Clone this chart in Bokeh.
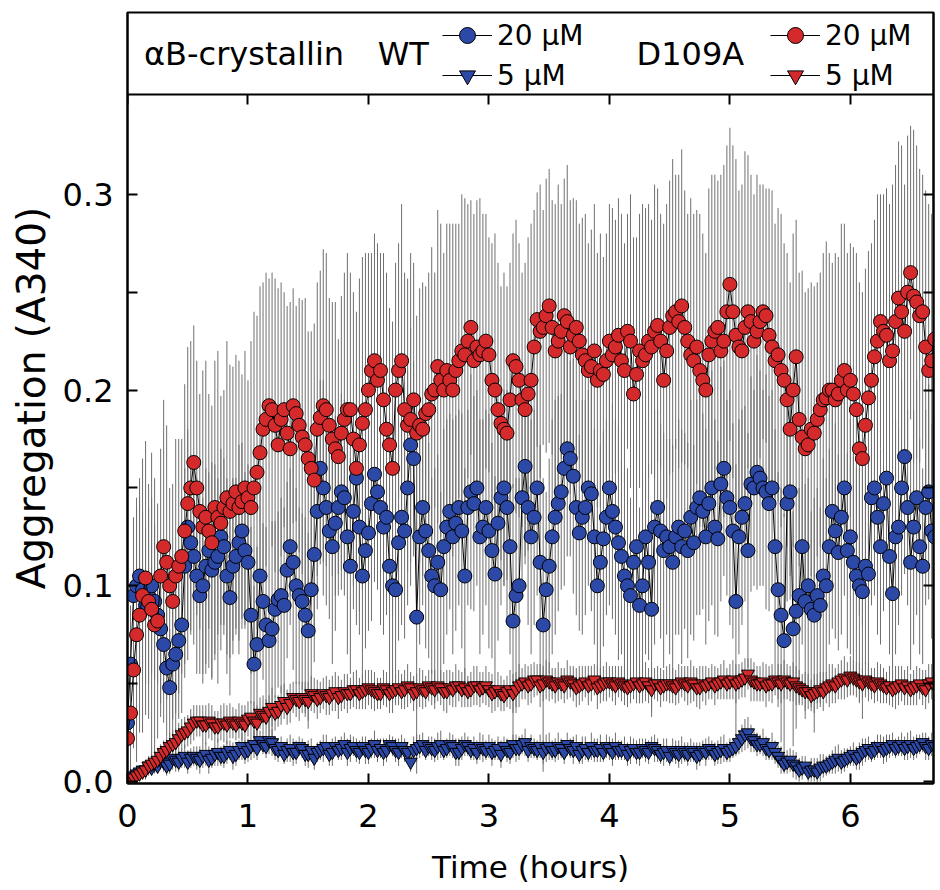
import numpy as np
from bokeh.plotting import figure
from bokeh.models import (Range1d, LinearAxis, FixedTicker, PrintfTickFormatter,
                          CustomJSTickFormatter, Legend, LegendItem, Label)
from bokeh.embed import file_html
from bokeh.resources import INLINE

# ---------------- data ----------------
# readings on the full 3-minute grid (t = 0, 0.05, ... 6.70 h)
hours_a = np.round(np.arange(135) * 0.05, 3)
# readings half-way between them (t = 0.025, 0.075, ... 6.675 h)
hours_b = np.round(0.025 + np.arange(134) * 0.05, 3)

# D109A 20 uM (red circles)
mut20_a = [0.022, 0.057, 0.085, 0.104, 0.088, 0.082, 0.120, 0.100, 0.105, 0.115,
           0.142, 0.163, 0.138, 0.135, 0.122, 0.135, 0.140, 0.138, 0.148, 0.143,
           0.145, 0.150, 0.168, 0.185, 0.190, 0.172, 0.190, 0.170, 0.188, 0.176,
           0.165, 0.154, 0.186, 0.190, 0.175, 0.166, 0.185, 0.190, 0.160, 0.183,
           0.200, 0.215, 0.210, 0.180, 0.160, 0.210, 0.190, 0.185, 0.178, 0.180,
           0.190, 0.200, 0.205, 0.210, 0.200, 0.215, 0.218, 0.232, 0.222, 0.220,
           0.218, 0.200, 0.183, 0.178, 0.215, 0.205, 0.190, 0.205, 0.236, 0.232,
           0.243, 0.220, 0.230, 0.235, 0.228, 0.225, 0.215, 0.212, 0.205, 0.208,
           0.225, 0.222, 0.215, 0.230, 0.198, 0.220, 0.218, 0.222, 0.233, 0.205,
           0.232, 0.240, 0.243, 0.225, 0.215, 0.210, 0.200, 0.225, 0.232, 0.225,
           0.254, 0.228, 0.220, 0.240, 0.225, 0.235, 0.238, 0.222, 0.218, 0.205,
           0.180, 0.217, 0.176, 0.172, 0.178, 0.190, 0.196, 0.200, 0.198, 0.210,
           0.205, 0.190, 0.165, 0.196, 0.217, 0.235, 0.228, 0.220, 0.247, 0.230,
           0.260, 0.245, 0.240, 0.210, 0.226]
mut20_b = [0.035, 0.075, 0.095, 0.092, 0.080, 0.105, 0.112, 0.092, 0.110, 0.128,
           0.150, 0.150, 0.130, 0.128, 0.140, 0.132, 0.145, 0.142, 0.140, 0.150,
           0.140, 0.158, 0.180, 0.192, 0.182, 0.185, 0.178, 0.192, 0.182, 0.172,
           0.160, 0.180, 0.192, 0.182, 0.170, 0.178, 0.190, 0.175, 0.172, 0.190,
           0.210, 0.205, 0.195, 0.172, 0.200, 0.215, 0.182, 0.195, 0.182, 0.188,
           0.198, 0.212, 0.200, 0.205, 0.210, 0.220, 0.225, 0.215, 0.218, 0.225,
           0.205, 0.190, 0.180, 0.195, 0.212, 0.195, 0.198, 0.222, 0.230, 0.238,
           0.232, 0.225, 0.238, 0.222, 0.232, 0.218, 0.210, 0.220, 0.210, 0.215,
           0.218, 0.228, 0.210, 0.225, 0.208, 0.215, 0.225, 0.230, 0.225, 0.220,
           0.238, 0.235, 0.232, 0.218, 0.222, 0.205, 0.218, 0.230, 0.220, 0.240,
           0.240, 0.222, 0.232, 0.235, 0.230, 0.240, 0.228, 0.215, 0.210, 0.195,
           0.200, 0.185, 0.170, 0.180, 0.185, 0.195, 0.200, 0.195, 0.205, 0.200,
           0.198, 0.170, 0.182, 0.205, 0.225, 0.230, 0.215, 0.235, 0.240, 0.250,
           0.248, 0.238, 0.222, 0.215]
mut20_err_a = [0.010, 0.040, 0.060, 0.070, 0.080, 0.060, 0.075, 0.050, 0.070, 0.060,
               0.080, 0.070, 0.060, 0.080, 0.070, 0.085, 0.060, 0.075, 0.070, 0.065,
               0.060, 0.090, 0.085, 0.075, 0.070, 0.080, 0.060, 0.075, 0.055, 0.070,
               0.065, 0.080, 0.075, 0.080, 0.070, 0.060, 0.075, 0.070, 0.080, 0.085,
               0.070, 0.065, 0.060, 0.080, 0.075, 0.065, 0.070, 0.085, 0.060, 0.075,
               0.070, 0.060, 0.080, 0.075, 0.085, 0.070, 0.080, 0.065, 0.075, 0.070,
               0.060, 0.080, 0.070, 0.075, 0.065, 0.070, 0.075, 0.080, 0.065, 0.060,
               0.070, 0.075, 0.065, 0.080, 0.070, 0.060, 0.075, 0.070, 0.065, 0.060,
               0.070, 0.065, 0.075, 0.060, 0.080, 0.070, 0.075, 0.065, 0.070, 0.080,
               0.075, 0.070, 0.080, 0.065, 0.075, 0.080, 0.070, 0.085, 0.075, 0.090,
               0.080, 0.090, 0.085, 0.080, 0.075, 0.070, 0.065, 0.080, 0.075, 0.070,
               0.075, 0.070, 0.085, 0.080, 0.075, 0.070, 0.080, 0.065, 0.070, 0.075,
               0.070, 0.080, 0.085, 0.075, 0.070, 0.065, 0.075, 0.085, 0.080, 0.075,
               0.075, 0.080, 0.070, 0.085, 0.070]
mut20_err_b = [0.030, 0.065, 0.070, 0.060, 0.075, 0.065, 0.070, 0.060, 0.065, 0.075,
               0.075, 0.065, 0.080, 0.070, 0.075, 0.065, 0.080, 0.070, 0.075, 0.070,
               0.085, 0.080, 0.075, 0.065, 0.075, 0.070, 0.065, 0.060, 0.065, 0.075,
               0.070, 0.075, 0.080, 0.065, 0.075, 0.070, 0.080, 0.075, 0.085, 0.080,
               0.060, 0.070, 0.075, 0.070, 0.065, 0.080, 0.075, 0.070, 0.070, 0.065,
               0.075, 0.080, 0.070, 0.080, 0.075, 0.080, 0.070, 0.075, 0.080, 0.065,
               0.070, 0.075, 0.080, 0.070, 0.075, 0.065, 0.080, 0.070, 0.075, 0.070,
               0.065, 0.080, 0.070, 0.075, 0.065, 0.070, 0.065, 0.075, 0.070, 0.065,
               0.075, 0.070, 0.065, 0.075, 0.070, 0.080, 0.070, 0.075, 0.065, 0.075,
               0.080, 0.075, 0.070, 0.080, 0.070, 0.075, 0.085, 0.080, 0.090, 0.085,
               0.085, 0.080, 0.090, 0.075, 0.080, 0.065, 0.075, 0.070, 0.080, 0.075,
               0.080, 0.075, 0.080, 0.075, 0.070, 0.075, 0.070, 0.075, 0.080, 0.070,
               0.075, 0.085, 0.080, 0.070, 0.075, 0.070, 0.080, 0.080, 0.085, 0.080,
               0.085, 0.075, 0.080, 0.075]

# WT 20 uM (blue circles)
wt20_a = [0.030, 0.095, 0.105, 0.090, 0.100, 0.085, 0.070, 0.048, 0.065, 0.080,
          0.130, 0.115, 0.095, 0.110, 0.108, 0.115, 0.120, 0.094, 0.115, 0.128,
          0.112, 0.060, 0.105, 0.080, 0.078, 0.093, 0.090, 0.120, 0.100, 0.092,
          0.077, 0.116, 0.160, 0.140, 0.120, 0.140, 0.145, 0.110, 0.155, 0.105,
          0.127, 0.157, 0.140, 0.135, 0.100, 0.122, 0.128, 0.172, 0.084, 0.140,
          0.118, 0.100, 0.098, 0.130, 0.125, 0.140, 0.105, 0.148, 0.150, 0.130,
          0.128, 0.106, 0.145, 0.140, 0.082, 0.100, 0.161, 0.125, 0.150, 0.080,
          0.110, 0.135, 0.148, 0.170, 0.156, 0.127, 0.140, 0.147, 0.100, 0.124,
          0.150, 0.130, 0.115, 0.100, 0.112, 0.090, 0.125, 0.088, 0.140, 0.118,
          0.120, 0.125, 0.120, 0.118, 0.122, 0.145, 0.125, 0.150, 0.124, 0.160,
          0.140, 0.092, 0.135, 0.118, 0.150, 0.155, 0.148, 0.150, 0.098, 0.072,
          0.148, 0.087, 0.120, 0.100, 0.085, 0.090, 0.100, 0.138, 0.117, 0.150,
          0.125, 0.105, 0.097, 0.106, 0.150, 0.120, 0.155, 0.096, 0.130, 0.166,
          0.112, 0.145, 0.110, 0.148, 0.125]
wt20_b = [0.060, 0.100, 0.098, 0.095, 0.092, 0.078, 0.058, 0.060, 0.072, 0.110,
          0.122, 0.105, 0.100, 0.118, 0.112, 0.125, 0.105, 0.110, 0.122, 0.118,
          0.085, 0.070, 0.092, 0.072, 0.088, 0.095, 0.108, 0.112, 0.095, 0.085,
          0.098, 0.138, 0.150, 0.128, 0.132, 0.148, 0.125, 0.138, 0.130, 0.118,
          0.142, 0.148, 0.130, 0.110, 0.098, 0.135, 0.150, 0.165, 0.125, 0.128,
          0.105, 0.112, 0.120, 0.138, 0.132, 0.128, 0.140, 0.142, 0.125, 0.140,
          0.118, 0.132, 0.150, 0.120, 0.095, 0.145, 0.140, 0.135, 0.112, 0.098,
          0.125, 0.142, 0.160, 0.165, 0.140, 0.135, 0.150, 0.125, 0.112, 0.135,
          0.138, 0.122, 0.105, 0.095, 0.120, 0.100, 0.112, 0.130, 0.128, 0.125,
          0.112, 0.130, 0.128, 0.135, 0.140, 0.138, 0.142, 0.130, 0.152, 0.145,
          0.128, 0.125, 0.142, 0.152, 0.158, 0.150, 0.142, 0.120, 0.085, 0.142,
          0.078, 0.095, 0.092, 0.088, 0.095, 0.105, 0.120, 0.128, 0.135, 0.118,
          0.112, 0.100, 0.110, 0.145, 0.135, 0.142, 0.115, 0.125, 0.150, 0.140,
          0.130, 0.120, 0.140, 0.128]
wt20_err_a = [0.010, 0.040, 0.050, 0.040, 0.045, 0.035, 0.040, 0.030, 0.040, 0.045,
              0.050, 0.045, 0.040, 0.050, 0.055, 0.040, 0.045, 0.050, 0.040, 0.045,
              0.050, 0.040, 0.045, 0.050, 0.055, 0.045, 0.050, 0.040, 0.050, 0.045,
              0.050, 0.055, 0.045, 0.050, 0.060, 0.045, 0.050, 0.055, 0.050, 0.060,
              0.050, 0.055, 0.060, 0.050, 0.060, 0.050, 0.055, 0.060, 0.080, 0.050,
              0.055, 0.060, 0.050, 0.055, 0.060, 0.050, 0.055, 0.060, 0.050, 0.055,
              0.060, 0.050, 0.055, 0.060, 0.070, 0.055, 0.050, 0.060, 0.055, 0.075,
              0.055, 0.060, 0.050, 0.055, 0.060, 0.050, 0.055, 0.060, 0.050, 0.055,
              0.060, 0.055, 0.050, 0.060, 0.055, 0.050, 0.060, 0.055, 0.050, 0.060,
              0.055, 0.050, 0.060, 0.055, 0.050, 0.060, 0.055, 0.060, 0.050, 0.055,
              0.060, 0.070, 0.055, 0.060, 0.050, 0.055, 0.060, 0.050, 0.060, 0.065,
              0.055, 0.060, 0.050, 0.055, 0.060, 0.050, 0.055, 0.060, 0.050, 0.055,
              0.060, 0.055, 0.065, 0.060, 0.055, 0.050, 0.060, 0.055, 0.050, 0.060,
              0.055, 0.060, 0.050, 0.055, 0.050]
wt20_err_b = [0.030, 0.045, 0.040, 0.045, 0.040, 0.045, 0.035, 0.045, 0.040, 0.050,
              0.045, 0.050, 0.045, 0.040, 0.050, 0.045, 0.050, 0.045, 0.050, 0.040,
              0.045, 0.050, 0.040, 0.055, 0.045, 0.050, 0.045, 0.055, 0.045, 0.050,
              0.055, 0.050, 0.055, 0.045, 0.055, 0.050, 0.060, 0.050, 0.055, 0.050,
              0.060, 0.050, 0.055, 0.060, 0.050, 0.055, 0.060, 0.050, 0.055, 0.060,
              0.050, 0.055, 0.060, 0.050, 0.055, 0.060, 0.050, 0.055, 0.060, 0.050,
              0.055, 0.060, 0.050, 0.055, 0.060, 0.050, 0.060, 0.055, 0.060, 0.050,
              0.060, 0.055, 0.060, 0.050, 0.055, 0.060, 0.050, 0.055, 0.060, 0.050,
              0.055, 0.060, 0.055, 0.050, 0.060, 0.055, 0.050, 0.060, 0.055, 0.050,
              0.060, 0.055, 0.050, 0.060, 0.055, 0.050, 0.060, 0.055, 0.060, 0.050,
              0.055, 0.060, 0.050, 0.055, 0.060, 0.050, 0.055, 0.060, 0.065, 0.050,
              0.060, 0.055, 0.060, 0.050, 0.055, 0.060, 0.050, 0.055, 0.060, 0.050,
              0.055, 0.060, 0.050, 0.055, 0.060, 0.055, 0.050, 0.060, 0.055, 0.050,
              0.060, 0.055, 0.050, 0.055]

# D109A 5 uM (red triangles)
mut5_a = [0.000, 0.002, 0.004, 0.006, 0.009, 0.011, 0.015, 0.018, 0.020, 0.024,
          0.026, 0.030, 0.031, 0.029, 0.030, 0.028, 0.030, 0.031, 0.029, 0.030,
          0.032, 0.031, 0.035, 0.033, 0.038, 0.036, 0.041, 0.040, 0.042, 0.043,
          0.041, 0.044, 0.043, 0.044, 0.045, 0.043, 0.046, 0.045, 0.047, 0.046,
          0.048, 0.046, 0.045, 0.047, 0.046, 0.048, 0.047, 0.048, 0.046, 0.047,
          0.049, 0.047, 0.048, 0.046, 0.047, 0.049, 0.048, 0.047, 0.049, 0.048,
          0.047, 0.046, 0.045, 0.046, 0.045, 0.049, 0.051, 0.050, 0.052, 0.050,
          0.051, 0.049, 0.050, 0.052, 0.050, 0.049, 0.051, 0.050, 0.048, 0.050,
          0.051, 0.049, 0.050, 0.048, 0.050, 0.049, 0.051, 0.047, 0.050, 0.049,
          0.050, 0.048, 0.051, 0.049, 0.050, 0.048, 0.049, 0.051, 0.050, 0.052,
          0.051, 0.050, 0.052, 0.055, 0.051, 0.050, 0.049, 0.050, 0.051, 0.052,
          0.050, 0.049, 0.047, 0.046, 0.045, 0.047, 0.048, 0.050, 0.051, 0.053,
          0.054, 0.052, 0.050, 0.051, 0.049, 0.050, 0.048, 0.047, 0.049, 0.048,
          0.047, 0.049, 0.048, 0.050, 0.049]
mut5_b = [0.001, 0.003, 0.005, 0.008, 0.010, 0.013, 0.016, 0.019, 0.022, 0.025,
          0.028, 0.031, 0.029, 0.031, 0.028, 0.030, 0.029, 0.030, 0.031, 0.029,
          0.033, 0.030, 0.034, 0.036, 0.035, 0.039, 0.038, 0.043, 0.041, 0.042,
          0.045, 0.042, 0.045, 0.043, 0.046, 0.044, 0.045, 0.047, 0.045, 0.047,
          0.047, 0.045, 0.048, 0.045, 0.047, 0.046, 0.049, 0.045, 0.048, 0.046,
          0.048, 0.049, 0.046, 0.048, 0.049, 0.047, 0.046, 0.049, 0.047, 0.049,
          0.045, 0.047, 0.044, 0.047, 0.047, 0.050, 0.049, 0.052, 0.049, 0.052,
          0.050, 0.051, 0.049, 0.051, 0.048, 0.050, 0.049, 0.052, 0.049, 0.051,
          0.050, 0.051, 0.049, 0.049, 0.051, 0.050, 0.049, 0.050, 0.048, 0.050,
          0.049, 0.050, 0.050, 0.051, 0.048, 0.050, 0.050, 0.049, 0.051, 0.050,
          0.052, 0.051, 0.053, 0.052, 0.050, 0.051, 0.050, 0.052, 0.050, 0.051,
          0.051, 0.048, 0.046, 0.044, 0.046, 0.046, 0.049, 0.049, 0.052, 0.052,
          0.053, 0.051, 0.052, 0.050, 0.051, 0.049, 0.049, 0.048, 0.050, 0.049,
          0.048, 0.050, 0.047, 0.051]
mut5_err_a = [0.002, 0.003, 0.004, 0.005, 0.005, 0.006, 0.006, 0.007, 0.007, 0.008,
              0.008, 0.009, 0.008, 0.010, 0.009, 0.008, 0.010, 0.009, 0.008, 0.009,
              0.009, 0.010, 0.008, 0.009, 0.010, 0.008, 0.009, 0.010, 0.009, 0.008,
              0.010, 0.009, 0.008, 0.010, 0.009, 0.011, 0.009, 0.008, 0.010, 0.009,
              0.009, 0.010, 0.008, 0.009, 0.011, 0.009, 0.010, 0.008, 0.009, 0.010,
              0.008, 0.010, 0.009, 0.011, 0.009, 0.008, 0.010, 0.009, 0.010, 0.008,
              0.009, 0.010, 0.009, 0.008, 0.010, 0.011, 0.009, 0.010, 0.008, 0.009,
              0.010, 0.009, 0.008, 0.010, 0.009, 0.010, 0.008, 0.009, 0.011, 0.009,
              0.008, 0.010, 0.009, 0.010, 0.008, 0.009, 0.010, 0.011, 0.009, 0.008,
              0.010, 0.009, 0.008, 0.010, 0.009, 0.011, 0.010, 0.009, 0.008, 0.010,
              0.009, 0.010, 0.009, 0.008, 0.010, 0.009, 0.011, 0.010, 0.009, 0.010,
              0.009, 0.010, 0.008, 0.009, 0.010, 0.009, 0.008, 0.010, 0.009, 0.011,
              0.010, 0.009, 0.008, 0.010, 0.009, 0.010, 0.008, 0.009, 0.010, 0.009,
              0.008, 0.010, 0.009, 0.010, 0.009]
mut5_err_b = [0.003, 0.004, 0.004, 0.005, 0.006, 0.006, 0.007, 0.007, 0.008, 0.008,
              0.009, 0.008, 0.010, 0.009, 0.008, 0.009, 0.010, 0.008, 0.009, 0.010,
              0.008, 0.009, 0.010, 0.008, 0.009, 0.010, 0.009, 0.008, 0.010, 0.009,
              0.009, 0.010, 0.008, 0.009, 0.010, 0.008, 0.010, 0.009, 0.008, 0.010,
              0.010, 0.008, 0.009, 0.010, 0.008, 0.009, 0.011, 0.009, 0.010, 0.008,
              0.009, 0.008, 0.010, 0.009, 0.011, 0.009, 0.008, 0.010, 0.009, 0.010,
              0.010, 0.009, 0.008, 0.010, 0.009, 0.008, 0.010, 0.009, 0.011, 0.010,
              0.008, 0.010, 0.009, 0.008, 0.010, 0.009, 0.010, 0.008, 0.009, 0.010,
              0.009, 0.008, 0.010, 0.009, 0.011, 0.010, 0.009, 0.008, 0.010, 0.009,
              0.009, 0.010, 0.009, 0.011, 0.010, 0.009, 0.008, 0.010, 0.009, 0.008,
              0.010, 0.009, 0.010, 0.011, 0.009, 0.010, 0.009, 0.008, 0.010, 0.009,
              0.010, 0.009, 0.010, 0.008, 0.009, 0.010, 0.011, 0.009, 0.010, 0.009,
              0.009, 0.010, 0.009, 0.008, 0.010, 0.009, 0.010, 0.011, 0.009, 0.010,
              0.009, 0.008, 0.010, 0.009]

# WT 5 uM (blue triangles)
wt5_a = [0.000, 0.003, 0.005, 0.006, 0.007, 0.008, 0.010, 0.009, 0.011, 0.012,
         0.010, 0.013, 0.011, 0.014, 0.012, 0.015, 0.013, 0.016, 0.014, 0.018,
         0.016, 0.019, 0.021, 0.018, 0.020, 0.016, 0.014, 0.017, 0.015, 0.017,
         0.014, 0.012, 0.016, 0.018, 0.015, 0.016, 0.019, 0.017, 0.016, 0.018,
         0.015, 0.019, 0.017, 0.016, 0.018, 0.015, 0.016, 0.010, 0.017, 0.019,
         0.018, 0.016, 0.019, 0.017, 0.018, 0.015, 0.019, 0.016, 0.015, 0.017,
         0.018, 0.016, 0.014, 0.016, 0.019, 0.017, 0.020, 0.018, 0.016, 0.015,
         0.018, 0.016, 0.017, 0.019, 0.016, 0.014, 0.017, 0.018, 0.016, 0.015,
         0.017, 0.018, 0.016, 0.014, 0.017, 0.015, 0.016, 0.018, 0.016, 0.015,
         0.013, 0.015, 0.016, 0.014, 0.015, 0.014, 0.015, 0.016, 0.015, 0.017,
         0.016, 0.018, 0.022, 0.025, 0.021, 0.019, 0.017, 0.018, 0.013, 0.009,
         0.011, 0.008, 0.007, 0.005, 0.006, 0.007, 0.008, 0.010, 0.012, 0.011,
         0.013, 0.012, 0.015, 0.017, 0.016, 0.018, 0.017, 0.019, 0.018, 0.017,
         0.019, 0.018, 0.020, 0.017, 0.018]
wt5_b = [0.002, 0.004, 0.006, 0.008, 0.009, 0.011, 0.008, 0.012, 0.010, 0.013,
         0.012, 0.012, 0.013, 0.011, 0.014, 0.013, 0.015, 0.013, 0.016, 0.015,
         0.018, 0.017, 0.019, 0.021, 0.017, 0.018, 0.016, 0.015, 0.018, 0.014,
         0.016, 0.015, 0.017, 0.014, 0.018, 0.017, 0.015, 0.018, 0.015, 0.016,
         0.017, 0.016, 0.015, 0.019, 0.016, 0.018, 0.015, 0.016, 0.018, 0.016,
         0.017, 0.018, 0.016, 0.019, 0.015, 0.017, 0.018, 0.017, 0.018, 0.016,
         0.015, 0.017, 0.018, 0.015, 0.017, 0.019, 0.016, 0.017, 0.018, 0.017,
         0.016, 0.018, 0.015, 0.017, 0.018, 0.016, 0.015, 0.016, 0.017, 0.018,
         0.015, 0.016, 0.017, 0.016, 0.015, 0.017, 0.015, 0.017, 0.014, 0.016,
         0.016, 0.014, 0.015, 0.016, 0.013, 0.016, 0.017, 0.014, 0.016, 0.015,
         0.017, 0.020, 0.024, 0.022, 0.019, 0.020, 0.016, 0.015, 0.011, 0.010,
         0.009, 0.006, 0.008, 0.006, 0.005, 0.008, 0.009, 0.011, 0.010, 0.012,
         0.014, 0.013, 0.016, 0.015, 0.018, 0.016, 0.018, 0.017, 0.019, 0.018,
         0.017, 0.019, 0.018, 0.019]
wt5_err_a = [0.001, 0.002, 0.003, 0.003, 0.004, 0.004, 0.005, 0.005, 0.006, 0.005,
             0.006, 0.005, 0.007, 0.006, 0.005, 0.007, 0.006, 0.005, 0.006, 0.007,
             0.006, 0.007, 0.005, 0.006, 0.007, 0.006, 0.005, 0.007, 0.006, 0.005,
             0.007, 0.006, 0.005, 0.006, 0.007, 0.005, 0.006, 0.007, 0.006, 0.005,
             0.006, 0.007, 0.005, 0.006, 0.005, 0.007, 0.006, 0.005, 0.007, 0.006,
             0.005, 0.006, 0.007, 0.005, 0.006, 0.007, 0.006, 0.005, 0.006, 0.007,
             0.006, 0.005, 0.007, 0.006, 0.005, 0.006, 0.007, 0.006, 0.005, 0.006,
             0.007, 0.006, 0.005, 0.006, 0.007, 0.005, 0.006, 0.007, 0.006, 0.005,
             0.006, 0.007, 0.005, 0.006, 0.005, 0.007, 0.006, 0.005, 0.006, 0.007,
             0.005, 0.006, 0.007, 0.006, 0.005, 0.006, 0.007, 0.005, 0.006, 0.007,
             0.006, 0.005, 0.007, 0.008, 0.006, 0.005, 0.006, 0.007, 0.006, 0.005,
             0.006, 0.007, 0.006, 0.005, 0.006, 0.007, 0.005, 0.006, 0.007, 0.006,
             0.005, 0.006, 0.007, 0.006, 0.005, 0.006, 0.007, 0.006, 0.005, 0.006,
             0.007, 0.006, 0.005, 0.006, 0.007]
wt5_err_b = [0.002, 0.002, 0.003, 0.004, 0.004, 0.005, 0.005, 0.006, 0.005, 0.006,
             0.005, 0.006, 0.006, 0.007, 0.006, 0.005, 0.006, 0.007, 0.005, 0.006,
             0.007, 0.006, 0.005, 0.007, 0.006, 0.005, 0.006, 0.007, 0.005, 0.006,
             0.006, 0.005, 0.007, 0.006, 0.005, 0.006, 0.007, 0.005, 0.006, 0.007,
             0.005, 0.006, 0.007, 0.005, 0.006, 0.006, 0.005, 0.007, 0.006, 0.005,
             0.006, 0.007, 0.005, 0.006, 0.007, 0.006, 0.005, 0.006, 0.007, 0.005,
             0.007, 0.006, 0.005, 0.006, 0.007, 0.005, 0.006, 0.005, 0.006, 0.007,
             0.005, 0.007, 0.006, 0.005, 0.006, 0.007, 0.005, 0.006, 0.007, 0.006,
             0.007, 0.005, 0.006, 0.007, 0.006, 0.005, 0.006, 0.007, 0.005, 0.006,
             0.006, 0.007, 0.005, 0.006, 0.007, 0.005, 0.006, 0.006, 0.007, 0.005,
             0.005, 0.006, 0.008, 0.007, 0.006, 0.007, 0.005, 0.006, 0.007, 0.006,
             0.007, 0.006, 0.005, 0.006, 0.007, 0.006, 0.005, 0.007, 0.006, 0.005,
             0.006, 0.007, 0.006, 0.005, 0.006, 0.007, 0.006, 0.005, 0.006, 0.007,
             0.006, 0.005, 0.007, 0.006]

x_ticks = [0, 1, 2, 3, 4, 5, 6]
y_major = [0.0, 0.1, 0.2, 0.3]
y_minor = [0.05, 0.15, 0.25]
conc_labels = ["20 μM", "5 μM"]


def merged(a, b):
    """Interleave the on-grid and half-step readings into one time-ordered series."""
    out = np.empty(len(a) + len(b))
    out[0::2] = a
    out[1::2] = b
    return out


hours = merged(hours_a, hours_b)

# ---------------- figure ----------------
FONT = "DejaVu Sans"
RED = "#D42A2C"
BLUE = "#2C49A8"
ERR = "#6f6f6f"

p = figure(width=940, height=890, x_range=Range1d(0, 6.69), y_range=Range1d(-0.001, 0.3929),
           output_backend="svg", toolbar_location=None,
           min_border_left=127, min_border_right=7, min_border_top=12, min_border_bottom=107,
           x_axis_label="Time (hours)", y_axis_label="Aggregation (A340)")
p.grid.visible = False
p.outline_line_color = "black"
p.outline_line_width = 2
p.background_fill_color = "white"
p.border_fill_color = "white"


def style(ax, ticks, minor, show_labels):
    ax.ticker = FixedTicker(ticks=ticks, minor_ticks=minor)
    ax.major_tick_in = 10
    ax.major_tick_out = 0
    ax.minor_tick_in = 10
    ax.minor_tick_out = 0
    ax.axis_line_width = 2
    ax.major_tick_line_width = 2
    ax.minor_tick_line_width = 2
    ax.axis_line_color = "black"
    ax.major_tick_line_color = "black"
    ax.minor_tick_line_color = "black"
    ax.major_label_text_font = FONT
    ax.axis_label_text_font = FONT
    ax.axis_label_text_font_style = "normal"
    ax.axis_label_text_color = "black"
    if show_labels:
        ax.major_label_text_color = "black"
        ax.major_label_text_font_size = "32px"
    else:
        ax.formatter = CustomJSTickFormatter(code="return ''")
        ax.major_label_text_color = None
        ax.major_label_text_font_size = "1px"
        ax.major_label_standoff = 0


style(p.xaxis[0], x_ticks, [], True)
p.xaxis[0].major_label_standoff = 20
p.xaxis[0].axis_label_standoff = 19
p.xaxis[0].axis_label_text_font_size = "31px"
style(p.yaxis[0], y_major, y_minor, True)
p.yaxis[0].formatter = PrintfTickFormatter(format="%.1f")
p.yaxis[0].major_label_standoff = 14
p.yaxis[0].axis_label_standoff = 6
p.yaxis[0].axis_label_text_font_size = "39px"

ax_top = LinearAxis(fixed_location=0.351)
style(ax_top, x_ticks, [], False)
p.add_layout(ax_top, "above")
ax_right = LinearAxis()
style(ax_right, y_major, y_minor, False)
p.add_layout(ax_right, "right")

series = [("wt20", merged(wt20_a, wt20_b), merged(wt20_err_a, wt20_err_b), BLUE, "circle", 14),
          ("mut20", merged(mut20_a, mut20_b), merged(mut20_err_a, mut20_err_b), RED, "circle", 14),
          ("wt5", merged(wt5_a, wt5_b), merged(wt5_err_a, wt5_err_b), BLUE, "inverted_triangle", 13),
          ("mut5", merged(mut5_a, mut5_b), merged(mut5_err_a, mut5_err_b), RED, "inverted_triangle", 13)]

# error bars first (behind everything)
for key, v, e, color, marker, size in series:
    p.segment(x0=hours, y0=v - e, x1=hours, y1=v + e, line_color=ERR, line_width=1)

renderers = {}
for key, v, e, color, marker, size in series:
    ln = p.line(hours, v, line_color="black", line_width=1)
    sc = p.scatter(hours, v, marker=marker, size=size, fill_color=color,
                   line_color="black", line_width=1)
    renderers[key] = [ln, sc]


def make_legend(k20, k5, loc):
    leg = Legend(items=[LegendItem(label=conc_labels[0], renderers=renderers[k20]),
                        LegendItem(label=conc_labels[1], renderers=renderers[k5])],
                 location=loc, orientation="vertical")
    leg.border_line_color = None
    leg.background_fill_alpha = 0
    leg.padding = 0
    leg.margin = 0
    leg.spacing = 0
    leg.glyph_width = 50
    leg.glyph_height = 40
    leg.label_height = 40
    leg.label_standoff = 5
    leg.label_text_font = FONT
    leg.label_text_font_size = "28px"
    leg.label_text_color = "black"
    leg.label_text_baseline = "middle"
    return leg


p.add_layout(make_legend("wt20", "wt5", (315, 688)))
p.add_layout(make_legend("mut20", "mut5", (643, 688)))

for txt, xpos in [("αB-crystallin", 0.137), ("WT", 2.077), ("D109A", 4.225)]:
    p.add_layout(Label(x=xpos, y=0.3719, text=txt, text_font=FONT, text_font_size="32px",
                       text_color="black", text_baseline="alphabetic"))

open("out.html", "w").write(file_html(p, INLINE))
